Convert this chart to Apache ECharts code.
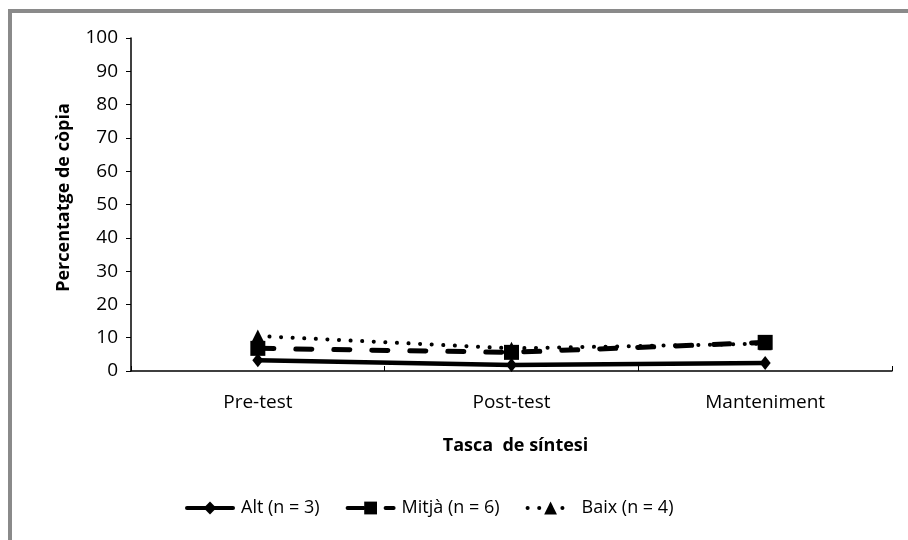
<!DOCTYPE html>
<html><head><meta charset="utf-8">
<script src="https://cdn.jsdelivr.net/npm/echarts@6/dist/echarts.min.js"></script>
<style>html,body{margin:0;padding:0;background:#fff}#c{width:908px;height:540px}</style>
</head><body><div id="c"></div>
<script>
const categories = ['Pre-test', 'Post-test', 'Manteniment'];
const altValues = [3.2, 1.8, 2.4];
const mitjaValues = [6.8, 5.6, 8.6];
const baixValues = [10.5, 6.8, 8.2];
const seriesNames = ['Alt (n = 3)', 'Mitjà (n = 6)', 'Baix (n = 4)'];
const yTicks = {min: 0, max: 100, interval: 10};

const font = '"Open Sans", Lato, sans-serif';
const chart = echarts.init(document.getElementById('c'), null, {renderer: 'canvas'});
chart.setOption({
  animation: false,
  backgroundColor: '#fff',
  graphic: [{
    type: 'rect', shape: {x: 10, y: 11, width: 1000, height: 1000},
    style: {fill: 'none', stroke: '#8a8a8a', lineWidth: 4}, silent: true, z: -1
  }],
  grid: {left: 131, right: 16, top: 38, bottom: 169, containLabel: false},
  legend: {
    bottom: 18, left: 180, itemWidth: 46, itemHeight: 16, itemGap: 26,
    textStyle: {fontFamily: font, fontSize: 18, color: '#000', padding: [0, 0, 0, 3]},
    lineStyle: {width: 4},
    data: seriesNames
  },
  xAxis: {
    type: 'category', data: categories, boundaryGap: true,
    axisLine: {lineStyle: {color: '#000', width: 1.5}},
    axisTick: {show: true, inside: true, length: 5, lineStyle: {color: '#000'}},
    axisLabel: {fontFamily: font, fontSize: 19, color: '#000', margin: 22},
    name: 'Tasca  de síntesi', nameLocation: 'middle', nameGap: 66,
    nameTextStyle: {fontFamily: font, fontSize: 18, fontWeight: 'bold', color: '#000', padding: [0, 0, 0, 8]}
  },
  yAxis: {
    type: 'value', min: yTicks.min, max: yTicks.max, interval: yTicks.interval,
    axisLine: {show: true, lineStyle: {color: '#000', width: 1.5}},
    axisTick: {show: true, length: 5, lineStyle: {color: '#000'}},
    splitLine: {show: false},
    axisLabel: {fontFamily: font, fontSize: 19, color: '#000', margin: 13},
    name: 'Percentatge de còpia', nameLocation: 'middle', nameGap: 58,
    nameTextStyle: {fontFamily: font, fontSize: 18, fontWeight: 'bold', color: '#000', padding: [0, 0, 0, 14]}
  },
  series: [
    {
      name: seriesNames[0], type: 'line', data: altValues,
      symbol: 'diamond', symbolSize: [11, 14], color: '#000',
      lineStyle: {color: '#000', width: 4.5, type: 'solid', cap: 'round'},
      itemStyle: {color: '#000'}, z: 3
    },
    {
      name: seriesNames[1], type: 'line', data: mitjaValues,
      symbol: 'rect', symbolSize: 15, color: '#000',
      lineStyle: {color: '#000', width: 5, type: [16, 22], cap: 'round'},
      itemStyle: {color: '#000'}, z: 4
    },
    {
      name: seriesNames[2], type: 'line', data: baixValues,
      symbol: 'triangle', symbolSize: [13, 13], color: '#000',
      lineStyle: {color: '#000', width: 4, type: [0.1, 11.5], cap: 'round'},
      itemStyle: {color: '#000'}, z: 5
    }
  ]
});
</script></body></html>
